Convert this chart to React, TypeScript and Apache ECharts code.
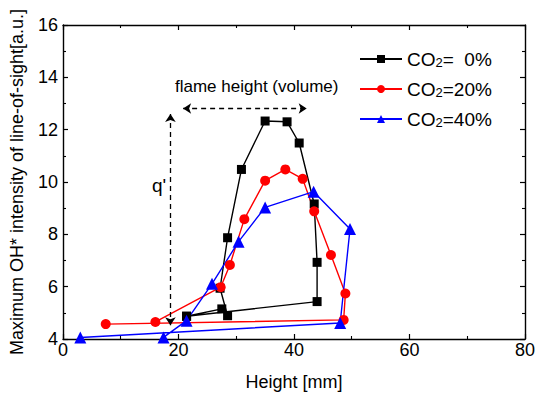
import React, { useEffect, useRef } from "react";
import * as echarts from "echarts";

const FONT = "'Liberation Sans', Arial, sans-serif";

const seriesNames = ["CO2=\u00a0\u00a00%", "CO2=20%", "CO2=40%"];
const seriesColors = ["#000000", "#ff0000", "#0000ff"];
const seriesSymbols = ["rect", "circle", "triangle"];

// [height mm, max OH* intensity]
const co2_0: number[][] = [
  [21.4, 4.87], [27.5, 5.15], [28.5, 4.89], [27.2, 5.94], [28.5, 7.87],
  [30.9, 10.48], [35.0, 12.33], [38.8, 12.3], [40.9, 11.49], [43.5, 9.16],
  [44.0, 6.93], [44.0, 5.43], [21.4, 4.87],
];
const co2_20: number[][] = [
  [16.0, 4.65], [27.3, 5.98], [28.9, 6.83], [31.4, 8.58], [35.0, 10.05],
  [38.5, 10.48], [41.5, 10.12], [43.5, 8.88], [46.4, 7.21], [48.9, 5.74],
  [48.6, 4.73], [7.4, 4.57],
];
const co2_40: number[][] = [
  [17.4, 4.06], [21.4, 4.7], [25.8, 6.11], [30.4, 7.72], [35.0, 9.03],
  [43.4, 9.63], [49.7, 8.2], [48.0, 4.61], [3.0, 4.06],
];
const seriesData = [co2_0, co2_20, co2_40];

const xRange = { min: 0, max: 80, interval: 20 };
const yRange = { min: 4, max: 16, interval: 2 };

// annotation arrows (data coordinates)
const flameArrow = [[20.8, 12.81], [42.2, 12.81]];
const qArrow = [[18.6, 12.6], [18.6, 4.53]];

export default function App() {
  const ref = useRef<HTMLDivElement>(null);
  useEffect(() => {
    if (!ref.current) return;
    const chart = echarts.init(ref.current, undefined, { renderer: "svg" });
    const axisCommon = {
      type: "value" as const,
      axisLine: { show: true, onZero: false, lineStyle: { color: "#000", width: 1.4 } },
      axisTick: { show: true, inside: true, length: 5, lineStyle: { color: "#000", width: 1.2 } },
      minorTick: { show: true, splitNumber: 2, length: 3, lineStyle: { color: "#000", width: 1.1 } },
      splitLine: { show: false },
      minorSplitLine: { show: false },
    };
    const labelStyle = { color: "#000", fontSize: 18, fontFamily: FONT };
    const series: any[] = seriesData.map((d, i) => ({
      name: seriesNames[i],
      type: "line",
      data: d,
      symbol: seriesSymbols[i],
      symbolSize: i === 0 ? 9 : i === 1 ? 10 : 12,
      showAllSymbol: true,
      lineStyle: { color: seriesColors[i], width: 1.4 },
      itemStyle: { color: seriesColors[i] },
      emphasis: { disabled: true },
    }));
    series.push({
      name: "annotations",
      type: "line",
      data: [],
      silent: true,
      markLine: {
        silent: true,
        symbol: ["arrow", "arrow"],
        symbolSize: 8,
        label: { show: false },
        emphasis: { disabled: true },
        lineStyle: { color: "#000", width: 1.3, type: [5, 4] },
        data: [
          [{ coord: flameArrow[0] }, { coord: flameArrow[1] }],
          [{ coord: qArrow[0] }, { coord: qArrow[1] }],
        ],
      },
    });
    chart.setOption({
      animation: false,
      backgroundColor: "#ffffff",
      grid: { left: 60, right: 10, top: 25, bottom: 55, containLabel: false },
      legend: {
        data: seriesNames,
        orient: "vertical",
        left: 354,
        top: 42,
        itemWidth: 42,
        itemHeight: 10,
        itemGap: 8,
        selectedMode: false,
        formatter: (name: string) => name.replace("CO2", "CO{sub|2}"),
        textStyle: {
          color: "#000",
          fontSize: 19,
          fontFamily: FONT,
          lineHeight: 20,
          rich: {
            sub: { fontSize: 13, fontFamily: FONT, color: "#000", lineHeight: 20, padding: [9, 0, 0, 0], verticalAlign: "bottom" },
          },
        },
      },
      xAxis: [
        {
          ...axisCommon,
          position: "bottom",
          min: xRange.min,
          max: xRange.max,
          interval: xRange.interval,
          axisLabel: { ...labelStyle, margin: 2 },
          name: "Height [mm]",
          nameLocation: "middle",
          nameGap: 34,
          nameTextStyle: { color: "#000", fontSize: 18, fontFamily: FONT },
        },
        {
          ...axisCommon,
          position: "top",
          min: xRange.min,
          max: xRange.max,
          interval: xRange.interval,
          axisLabel: { show: false },
        },
      ],
      yAxis: [
        {
          ...axisCommon,
          position: "left",
          min: yRange.min,
          max: yRange.max,
          interval: yRange.interval,
          axisLabel: { ...labelStyle, margin: 5 },
          name: "Maximum OH* intensity of line-of-sight[a.u.]",
          nameLocation: "middle",
          nameGap: 37,
          nameTextStyle: { color: "#000", fontSize: 18, fontFamily: FONT },
        },
        {
          ...axisCommon,
          position: "right",
          min: yRange.min,
          max: yRange.max,
          interval: yRange.interval,
          axisLabel: { show: false },
        },
      ],
      graphic: [
        {
          type: "text",
          left: 175,
          top: 78,
          style: { text: "flame height (volume)", fill: "#000", fontSize: 17, fontFamily: FONT },
        },
        {
          type: "text",
          left: 152,
          top: 176,
          style: { text: "q'", fill: "#000", fontSize: 19, fontFamily: FONT },
        },
      ],
      series,
    });
    return () => chart.dispose();
  }, []);
  return (
    <div
      ref={ref}
      style={{ position: "fixed", left: 0, top: 0, width: 538, height: 396, background: "#fff" }}
    />
  );
}
